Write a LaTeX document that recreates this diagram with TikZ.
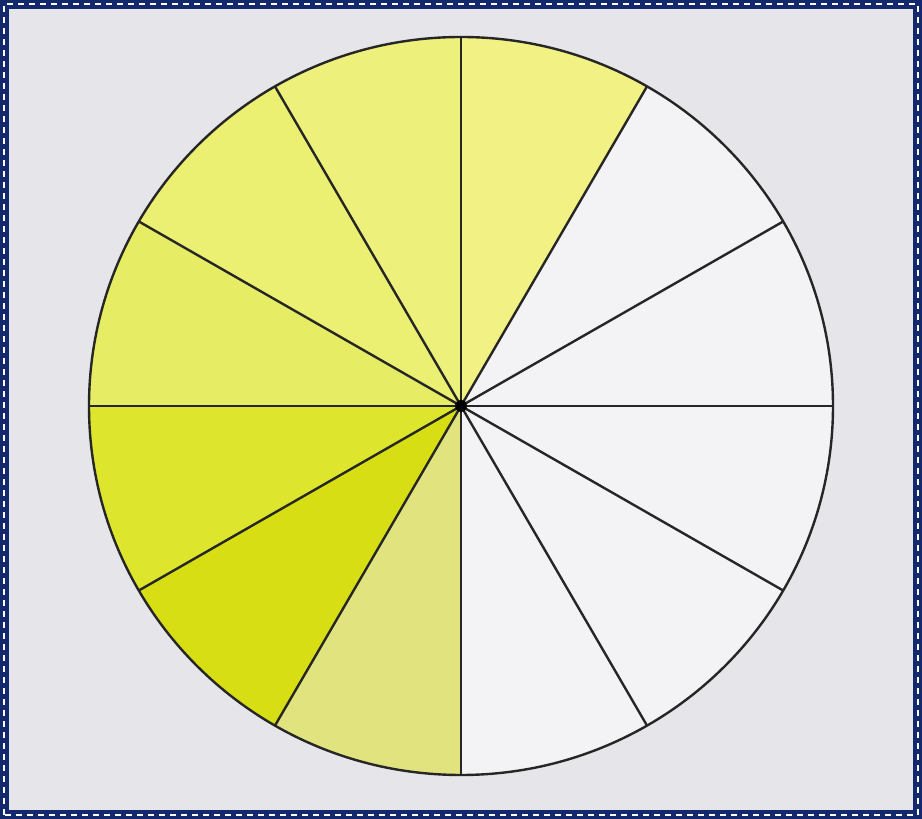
\documentclass[tikz,border=0pt]{standalone}
\begin{document}
\begin{tikzpicture}[x=1pt,y=1pt,
  spoke/.style={draw=black!85,line width=2.4pt},
  rim/.style={draw=black!85,line width=2.4pt}]
\definecolor{bgc}{HTML}{E6E6EA}
\definecolor{wsec}{HTML}{F3F3F6}
\definecolor{navy}{HTML}{14286E}
\definecolor{ya}{HTML}{F1F283}
\definecolor{yb}{HTML}{EEF07C}
\definecolor{yc}{HTML}{EBEF72}
\definecolor{yd}{HTML}{E6ED64}
\definecolor{ye}{HTML}{DDE52C}
\definecolor{yf}{HTML}{D7DF14}
\definecolor{yg}{HTML}{E1E47E}
\useasboundingbox (0,0) rectangle (922,819);
\fill[bgc] (0,0) rectangle (922,819);
\draw[navy,line width=9pt] (4.5,4.5) rectangle (917.5,814.5);
\draw[white,line width=2.5pt,dash pattern=on 6pt off 5pt] (4,4) rectangle (918,815);
\coordinate (c) at (461,413);
\fill[wsec] (c) ellipse [x radius=372, y radius=369];
\foreach \a/\col in {60/ya,90/yb,120/yc,150/yd,180/ye,210/yf,240/yg}{
  \fill[\col] (c) -- ++(\a:372 and 369) arc[start angle=\a, end angle=\a+30, x radius=372, y radius=369] -- cycle;
}
\foreach \a in {0,30,...,330}{
  \draw[spoke] (c) -- ++(\a:372 and 369);
}
\draw[rim] (c) ellipse [x radius=372, y radius=369];
\fill[black] (c) circle (6);
\end{tikzpicture}
\end{document}
